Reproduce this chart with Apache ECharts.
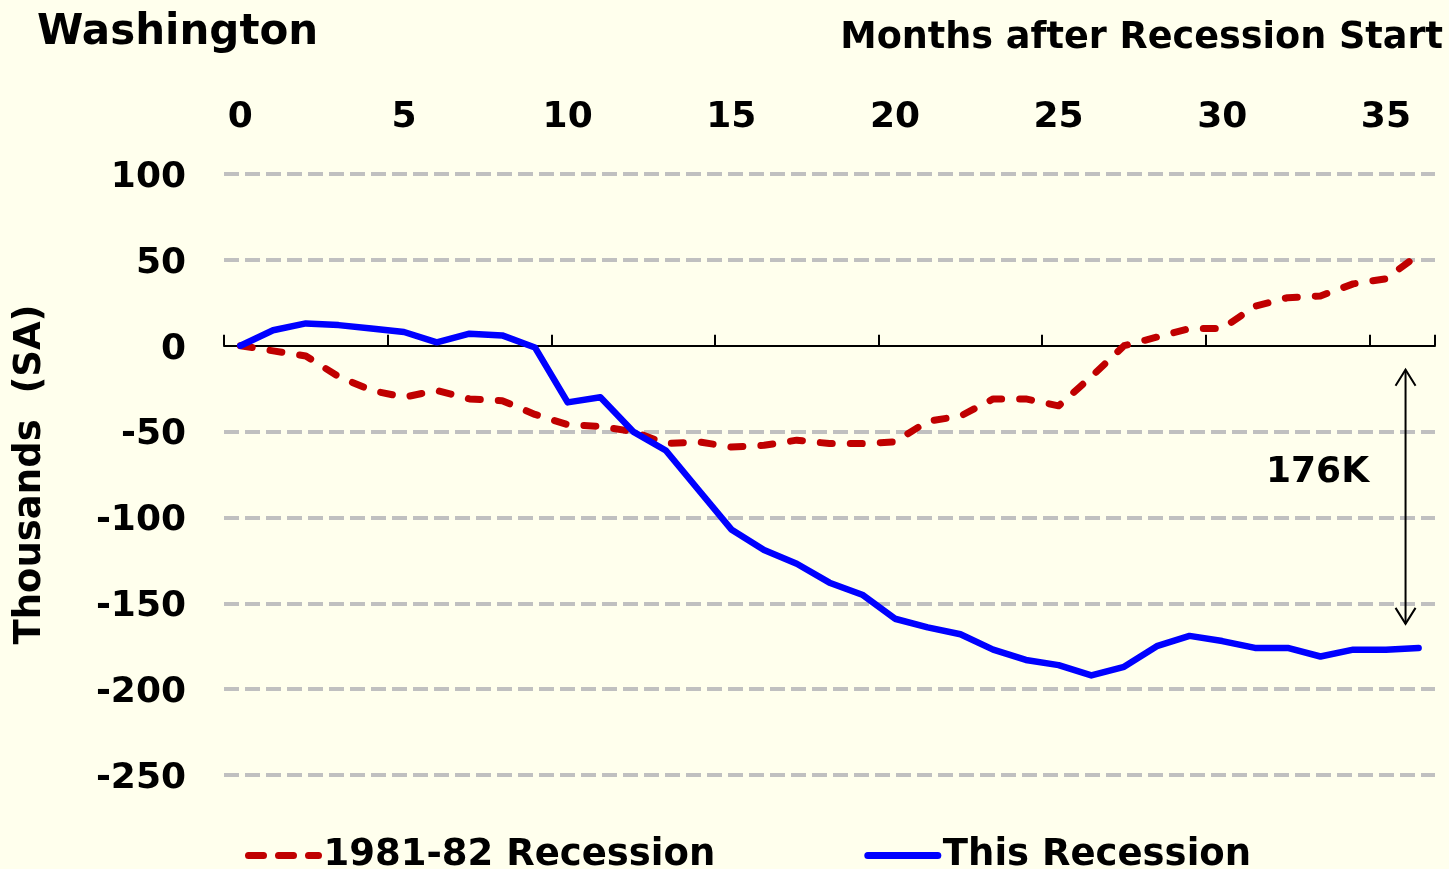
<!DOCTYPE html>
<html>
<head>
<meta charset="utf-8">
<script src="https://cdn.jsdelivr.net/npm/echarts@6/dist/echarts.min.js"></script>
<style>
  html, body { margin: 0; padding: 0; background: #FFFFED; }
  #chart { width: 1449px; height: 869px; }
</style>
</head>
<body>
<div id="chart"></div>
<script>
  // months after recession start
  const months = [];
  for (let m = 0; m <= 36; m++) months.push(String(m));

  // thousands of jobs vs. start of recession (SA)
  const recession8182 = [0, -3, -6, -18, -26, -30, -26, -31, -32, -40, -46, -47, -50, -57, -56, -59, -58, -55, -57,
    -57, -56, -44, -41, -31, -31, -35, -18, 0, 5, 10, 10, 23, 28, 29, 36, 39, 53];
  const thisRecession = [0, 9, 13, 12, 10, 8, 2, 7, 6, -1, -33, -30, -50, -61, -84, -107, -119, -127, -138,
    -145, -159, -164, -168, -177, -183, -186, -192, -187, -175, -169, -172, -176, -176, -181, -177, -177, -176];

  const yTicks = { min: -250, max: 100, step: 50 };

  // gap annotation
  const gapLabel = '176K';
  const gapMonth = 35.6;
  const gapTop = -14;
  const gapBottom = -162;

  const font = 'DejaVu Sans';
  const grey = '#C0C0C0';

  let chart = echarts.init(document.getElementById('chart'));

  // hide the grid line that sits under the zero axis line
  let gridColors = [];
  for (let v = yTicks.min; v <= yTicks.max; v += yTicks.step) {
    gridColors.push(v === 0 ? 'rgba(0,0,0,0)' : grey);
  }

  let option = {
    backgroundColor: '#FFFFED',
    animation: false,
    title: [{
      text: 'Washington',
      left: 32,
      top: 7,
      textStyle: { fontFamily: font, fontWeight: 'bold', fontSize: 42, color: '#000' }
    }, {
      text: 'Months after Recession Start',
      right: 1,
      top: 15,
      textStyle: { fontFamily: font, fontWeight: 'bold', fontSize: 36.6, color: '#000' }
    }],
    legend: {
      left: 245,
      top: 837,
      padding: 0,
      itemWidth: 70,
      itemHeight: 20,
      itemGap: 149,
      itemStyle: { opacity: 0 },
      textStyle: { fontFamily: font, fontWeight: 'bold', fontSize: 37, color: '#000' },
      data: [{
        name: '1981-82 Recession',
        lineStyle: { width: 7, type: [15, 15], cap: 'round' }
      }, {
        name: 'This Recession',
        lineStyle: { width: 7, cap: 'round' }
      }]
    },
    grid: {
      left: 224,
      right: 14,
      top: 174,
      bottom: 94
    },
    xAxis: [{
      // line through zero, ticks pointing up
      type: 'category',
      position: 'top',
      data: months,
      boundaryGap: true,
      axisLine: { show: true, onZero: true, lineStyle: { color: '#000', width: 2 } },
      axisTick: { show: true, inside: false, interval: 4, length: 11, lineStyle: { color: '#000', width: 2 } },
      axisLabel: { show: false },
      splitLine: { show: false }
    }, {
      // month labels above the plot
      type: 'category',
      position: 'top',
      data: months,
      boundaryGap: true,
      axisLine: { show: false, onZero: false },
      axisTick: { show: false },
      axisLabel: {
        interval: 4,
        margin: 38,
        fontFamily: font,
        fontWeight: 'bold',
        fontSize: 36,
        color: '#000'
      },
      splitLine: { show: false }
    }],
    yAxis: {
      type: 'value',
      min: yTicks.min,
      max: yTicks.max,
      interval: yTicks.step,
      name: 'Thousands  (SA)',
      nameLocation: 'middle',
      nameRotate: 90,
      nameGap: 175,
      nameTextStyle: { fontFamily: font, fontWeight: 'bold', fontSize: 37, color: '#000' },
      axisLine: { show: false },
      axisTick: { show: false },
      axisLabel: {
        margin: 38,
        verticalAlign: 'top',
        lineHeight: 7,
        fontFamily: font,
        fontWeight: 'bold',
        fontSize: 36,
        color: '#000'
      },
      splitLine: {
        lineStyle: { color: gridColors, width: 4, type: [15, 6] }
      }
    },
    series: [{
      name: '1981-82 Recession',
      type: 'line',
      xAxisIndex: 0,
      data: recession8182,
      symbol: 'none',
      color: '#C00000',
      lineStyle: { color: '#C00000', width: 7, type: [12, 18], cap: 'round', join: 'round' },
      z: 3
    }, {
      name: 'This Recession',
      type: 'line',
      xAxisIndex: 0,
      data: thisRecession,
      symbol: 'none',
      color: '#0000FF',
      lineStyle: { color: '#0000FF', width: 6.5, cap: 'round', join: 'round' },
      z: 4
    }]
  };
  chart.setOption(option);

  // double arrow showing the gap between the two recessions
  const p0 = chart.convertToPixel({ xAxisIndex: 0, yAxisIndex: 0 }, [35, gapTop]);
  const p1 = chart.convertToPixel({ xAxisIndex: 0, yAxisIndex: 0 }, [36, gapBottom]);
  const ax = p0[0] + (gapMonth - 35) * (p1[0] - p0[0]);
  const yTop = p0[1];
  const yBot = p1[1];
  const head = { w: 10, h: 16 };
  const arrowStyle = { stroke: '#000', lineWidth: 2, fill: null };
  chart.setOption({
    graphic: [{
      type: 'line',
      shape: { x1: ax, y1: yTop, x2: ax, y2: yBot },
      style: arrowStyle
    }, {
      type: 'polyline',
      shape: { points: [[ax - head.w, yTop + head.h], [ax, yTop], [ax + head.w, yTop + head.h]] },
      style: arrowStyle
    }, {
      type: 'polyline',
      shape: { points: [[ax - head.w, yBot - head.h], [ax, yBot], [ax + head.w, yBot - head.h]] },
      style: arrowStyle
    }, {
      type: 'text',
      x: ax - 88,
      y: (yTop + yBot) / 2 - 24,
      style: {
        text: gapLabel,
        align: 'center',
        verticalAlign: 'middle',
        font: 'bold 36px "' + font + '"',
        fill: '#000'
      }
    }]
  });

  window.onresize = function () {
    chart.resize();
  };
</script>
</body>
</html>
